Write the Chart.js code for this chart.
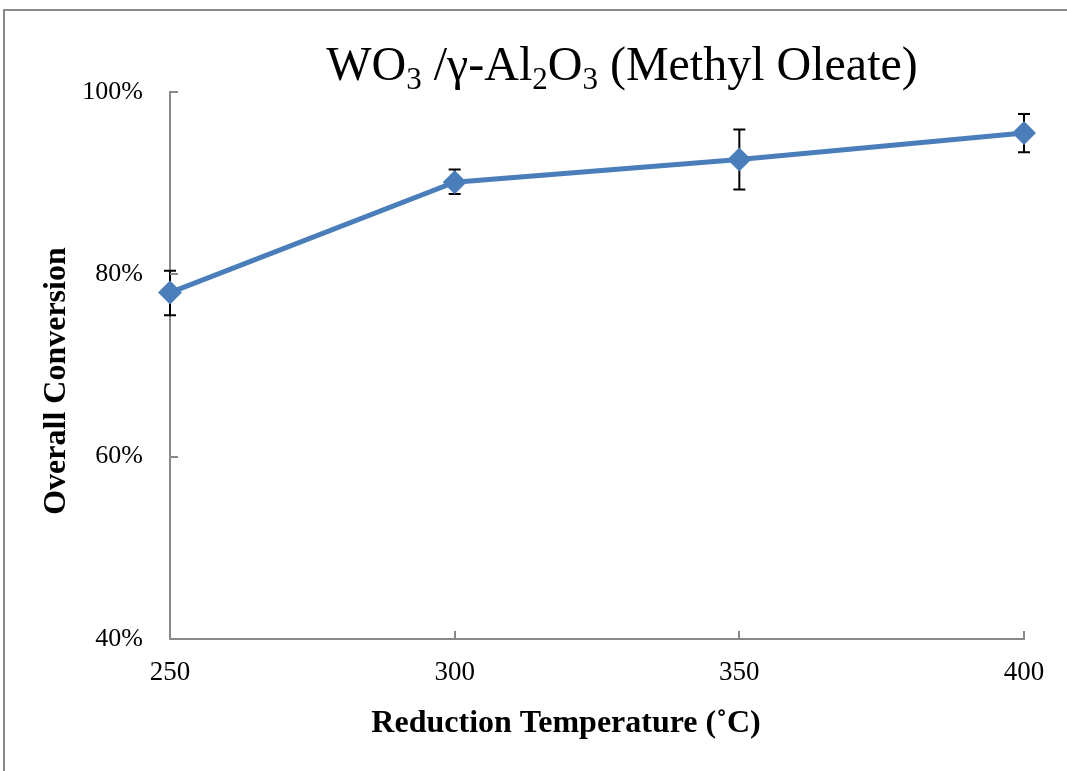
<!DOCTYPE html>
<html>
<head>
<meta charset="utf-8">
<script src="https://cdn.jsdelivr.net/npm/chart.js@4"></script>
<style>
html, body { margin: 0; padding: 0; background: #fff; }
#wrap { width: 1067px; height: 771px; }
</style>
</head>
<body>
<div id="wrap"><canvas id="myChart" width="1067" height="771"></canvas></div>
<script>
var temps = [250, 300, 350, 400];
var conversion = [78.0, 90.1, 92.6, 95.5];
var errLow = [75.5, 88.8, 89.3, 93.4];
var errHigh = [80.4, 91.5, 95.9, 97.6];
var xTicks = [250, 300, 350, 400];
var yTicks = [40, 60, 80, 100];
var xTitle = 'Reduction Temperature (\u02DAC)';
var yTitle = 'Overall Conversion';

var serif = "'Liberation Serif', 'Times New Roman', serif";
var axisGray = '#898989';

// frame round the chart
var framePlugin = {
  id: 'frame',
  beforeDraw: function(chart) {
    var ctx = chart.ctx;
    ctx.save();
    ctx.strokeStyle = axisGray;
    ctx.lineWidth = 2;
    ctx.strokeRect(4, 10, 2000, 2000);
    ctx.restore();
  }
};

// chart title with subscripts, plus the two axis titles
var titlePlugin = {
  id: 'subTitle',
  afterDraw: function(chart) {
    var ctx = chart.ctx;
    var size = 48, subSize = 31;
    var parts = [['WO', 0], ['3', 1], [' /\u03B3-Al', 0], ['2', 1], ['O', 0], ['3', 1], [' (Methyl Oleate)', 0]];
    ctx.save();
    var total = 0;
    parts.forEach(function(p) {
      ctx.font = (p[1] ? subSize : size) + 'px ' + serif;
      total += ctx.measureText(p[0]).width;
    });
    var x = 622 - total / 2, y = 80;
    ctx.fillStyle = '#000';
    ctx.textBaseline = 'alphabetic';
    parts.forEach(function(p) {
      ctx.font = (p[1] ? subSize : size) + 'px ' + serif;
      ctx.fillText(p[0], x, p[1] ? y + 9 : y);
      x += ctx.measureText(p[0]).width;
    });

    ctx.font = 'bold 32px ' + serif;
    ctx.textAlign = 'center';
    ctx.textBaseline = 'middle';
    ctx.fillText(xTitle, 566, 724);
    ctx.translate(57, 381);
    ctx.rotate(-Math.PI / 2);
    ctx.fillText(yTitle, 0, 0);
    ctx.restore();
  }
};

// inward tick marks
var tickPlugin = {
  id: 'inTicks',
  beforeDatasetsDraw: function(chart) {
    var ctx = chart.ctx, xs = chart.scales.x, ys = chart.scales.y;
    var a = chart.chartArea;
    ctx.save();
    ctx.strokeStyle = axisGray;
    ctx.lineWidth = 2;
    ctx.beginPath();
    yTicks.forEach(function(v) {
      var py = Math.round(ys.getPixelForValue(v));
      ctx.moveTo(a.left, py);
      ctx.lineTo(a.left + 8, py);
    });
    xTicks.forEach(function(v) {
      var px = Math.round(xs.getPixelForValue(v));
      ctx.moveTo(px, a.bottom);
      ctx.lineTo(px, a.bottom - 8);
    });
    ctx.stroke();
    ctx.restore();
  }
};

// error bars, drawn under the line
var errorPlugin = {
  id: 'errBars',
  beforeDatasetsDraw: function(chart) {
    var ctx = chart.ctx, xs = chart.scales.x, ys = chart.scales.y;
    ctx.save();
    ctx.strokeStyle = '#000';
    ctx.lineWidth = 2;
    ctx.beginPath();
    for (var i = 0; i < temps.length; i++) {
      var px = xs.getPixelForValue(temps[i]);
      var top = ys.getPixelForValue(errHigh[i]);
      var bot = ys.getPixelForValue(errLow[i]);
      ctx.moveTo(px, top); ctx.lineTo(px, bot);
      ctx.moveTo(px - 6, top); ctx.lineTo(px + 6, top);
      ctx.moveTo(px - 6, bot); ctx.lineTo(px + 6, bot);
    }
    ctx.stroke();
    ctx.restore();
  }
};

var data = {
  datasets: [{
    label: 'Overall Conversion',
    data: temps.map(function(t, i) { return {x: t, y: conversion[i]}; }),
    borderColor: '#4a7ebb',
    backgroundColor: '#4a7ebb',
    borderWidth: 5,
    pointStyle: 'rectRot',
    pointRadius: 12,
    pointHoverRadius: 12,
    pointBorderWidth: 0,
    tension: 0,
    clip: false
  }]
};

var ctx = document.getElementById('myChart').getContext('2d');
var myChart = new Chart(ctx, {
  type: 'line',
  data: data,
  plugins: [framePlugin, errorPlugin, tickPlugin, titlePlugin],
  options: {
    responsive: false,
    animation: false,
    layout: { padding: { top: 92, right: 43, left: 0, bottom: 0 } },
    plugins: { legend: { display: false }, tooltip: { enabled: false }, title: { display: false } },
    scales: {
      x: {
        type: 'linear',
        min: 250, max: 400,
        afterBuildTicks: function(s) { s.ticks = xTicks.map(function(v) { return {value: v}; }); },
        afterFit: function(s) { s.height = 132; },
        grid: { display: true, drawOnChartArea: false, drawTicks: false },
        border: { display: true, color: axisGray, width: 2 },
        ticks: { color: '#000', padding: 18, maxRotation: 0, font: { family: serif, size: 27 } },
        title: { display: false }
      },
      y: {
        type: 'linear',
        min: 40, max: 100,
        afterBuildTicks: function(s) { s.ticks = yTicks.map(function(v) { return {value: v}; }); },
        afterFit: function(s) { s.width = 170; },
        grid: { display: true, drawOnChartArea: false, drawTicks: false },
        border: { display: true, color: axisGray, width: 2 },
        ticks: { color: '#000', padding: 27, font: { family: serif, size: 26 },
                 callback: function(v) { return v + '%'; } },
        title: { display: false }
      }
    }
  }
});
</script>
</body>
</html>
